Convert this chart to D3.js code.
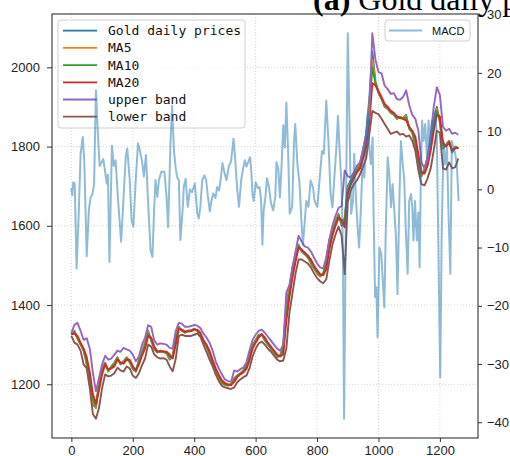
<!DOCTYPE html>
<html><head><meta charset="utf-8">
<script src="https://cdn.jsdelivr.net/npm/d3@7"></script>
<style>body{margin:0;background:#fff}svg{display:block}</style>
</head><body>
<svg id="chart" width="510" height="456"></svg>
<script>
const days = [0,10,20,30,40,50,60,70,80,90,100,110,120,130,140,150,160,170,180,190,200,210,220,230,240,250,260,270,280,290,300,310,320,330,340,350,360,370,380,390,400,410,420,430,440,450,460,470,480,490,500,510,520,530,540,550,560,570,580,590,600,610,620,630,640,650,660,670,680,690,700,710,720,730,740,750,760,770,780,790,800,810,820,830,840,850,860,870,880,890,900,910,920,930,940,950,960,970,980,990,1000,1010,1020,1030,1040,1050,1060,1070,1080,1090,1100,1110,1120,1130,1140,1150,1160,1170,1180,1190,1200,1210,1220,1230,1240,1250,1260];
const price = [1326,1335,1315,1300,1285,1250,1200,1150,1140,1205,1240,1255,1232,1245,1255,1268,1250,1258,1268,1255,1238,1232,1262,1282,1305,1335,1310,1288,1280,1285,1282,1278,1262,1270,1325,1345,1335,1330,1336,1336,1340,1335,1322,1305,1295,1275,1250,1230,1215,1203,1198,1197,1200,1215,1222,1228,1235,1250,1280,1300,1312,1325,1325,1310,1300,1290,1278,1268,1272,1300,1400,1445,1495,1530,1552,1535,1528,1520,1505,1492,1480,1472,1480,1515,1565,1590,1612,1630,1600,1620,1700,1715,1730,1742,1758,1790,1835,1920,2040,1965,1935,1920,1900,1895,1885,1880,1870,1875,1872,1880,1845,1835,1800,1750,1725,1745,1775,1820,1870,1900,1860,1795,1805,1815,1785,1800,1795];
const ma5 = [1326,1334,1316,1301,1286,1254,1207,1155,1142,1200,1236,1254,1233,1244,1253,1267,1251,1257,1267,1256,1240,1233,1259,1280,1302,1332,1312,1290,1281,1285,1282,1279,1265,1269,1318,1344,1335,1331,1335,1336,1340,1335,1324,1306,1296,1277,1253,1232,1217,1204,1199,1197,1200,1213,1221,1227,1234,1247,1275,1298,1310,1324,1326,1312,1301,1291,1280,1270,1271,1294,1390,1440,1490,1526,1550,1536,1529,1521,1507,1494,1482,1473,1479,1508,1558,1586,1609,1628,1604,1614,1695,1712,1728,1740,1755,1785,1826,1905,2020,1962,1936,1921,1902,1896,1886,1881,1871,1875,1872,1877,1846,1836,1806,1757,1727,1741,1770,1812,1862,1895,1864,1798,1804,1814,1786,1799,1795];
const ma10 = [1326,1332,1318,1302,1288,1259,1215,1162,1146,1195,1232,1252,1235,1242,1250,1265,1252,1255,1265,1258,1242,1234,1256,1277,1298,1328,1314,1292,1282,1284,1282,1280,1268,1268,1312,1342,1336,1332,1334,1335,1339,1336,1326,1308,1298,1280,1256,1235,1220,1206,1200,1198,1199,1210,1220,1226,1232,1244,1270,1295,1308,1322,1326,1314,1302,1292,1282,1272,1271,1288,1380,1432,1482,1520,1548,1538,1530,1522,1510,1496,1484,1475,1478,1502,1552,1582,1606,1625,1608,1608,1690,1710,1725,1738,1752,1780,1818,1890,2000,1960,1938,1922,1904,1898,1888,1882,1873,1874,1871,1873,1848,1838,1812,1765,1730,1738,1764,1805,1855,1890,1868,1802,1802,1812,1788,1798,1796];
const ma20 = [1326,1328,1322,1305,1290,1268,1230,1175,1152,1185,1225,1250,1238,1240,1245,1262,1255,1252,1262,1262,1245,1235,1250,1272,1290,1322,1318,1295,1283,1282,1283,1282,1275,1265,1300,1340,1338,1333,1333,1334,1338,1338,1330,1312,1300,1284,1262,1240,1224,1210,1203,1200,1198,1206,1218,1225,1230,1238,1260,1290,1305,1318,1326,1318,1305,1295,1285,1275,1270,1275,1360,1420,1470,1510,1545,1540,1532,1525,1515,1500,1488,1478,1475,1490,1540,1575,1600,1620,1615,1596,1680,1705,1720,1735,1745,1770,1800,1860,1960,1955,1940,1925,1908,1900,1890,1885,1876,1872,1870,1866,1850,1840,1825,1780,1735,1732,1752,1790,1840,1880,1876,1810,1800,1810,1790,1795,1798];
const upperBand = [1330,1350,1355,1335,1312,1316,1290,1230,1182,1215,1250,1272,1262,1265,1275,1285,1282,1292,1288,1285,1275,1258,1270,1300,1318,1349,1345,1310,1300,1303,1302,1300,1292,1290,1335,1355,1353,1345,1345,1347,1350,1348,1342,1328,1318,1305,1285,1258,1240,1225,1212,1208,1206,1235,1232,1238,1242,1255,1285,1312,1325,1335,1338,1330,1320,1310,1300,1290,1285,1300,1432,1450,1495,1535,1575,1560,1548,1545,1535,1520,1505,1495,1492,1520,1565,1600,1625,1645,1650,1740,1725,1722,1735,1752,1760,1795,1830,1880,2086,2020,1988,1985,1954,1945,1933,1935,1920,1918,1925,1942,1905,1880,1870,1840,1760,1744,1770,1830,1900,1950,1930,1850,1840,1845,1832,1835,1830];
const lowerBand = [1322,1305,1300,1285,1250,1240,1190,1125,1113,1140,1190,1225,1220,1222,1228,1242,1235,1232,1245,1240,1222,1216,1228,1248,1265,1300,1295,1275,1268,1265,1266,1262,1245,1233,1265,1322,1325,1322,1322,1322,1325,1328,1320,1300,1282,1262,1245,1225,1208,1196,1192,1190,1188,1192,1205,1212,1218,1222,1240,1270,1290,1303,1308,1300,1290,1282,1272,1262,1258,1260,1290,1380,1430,1480,1515,1515,1510,1505,1495,1480,1468,1460,1455,1465,1512,1552,1578,1598,1575,1478,1660,1690,1705,1715,1730,1750,1770,1830,1890,1885,1882,1870,1857,1845,1832,1835,1838,1830,1832,1825,1828,1815,1790,1740,1705,1702,1720,1745,1790,1840,1835,1745,1742,1760,1745,1748,1770];
const macdDay = [0,3,6,11,17,24,30,37,42,50,57,63,68,74,80,86,92,97,104,110,115,119,124,132,138,144,152,162,169,177,182,190,196,202,209,217,223,231,236,243,249,258,264,269,274,280,285,293,303,310,315,323,328,334,340,345,350,355,363,366,372,379,386,393,402,410,415,420,426,433,439,444,451,456,462,469,475,481,486,492,499,505,513,520,528,533,540,546,553,559,565,570,576,582,586,590,594,600,607,613,618,622,626,632,637,643,650,657,664,668,674,679,684,690,695,700,706,711,719,725,729,736,743,749,754,760,765,772,779,787,792,801,808,816,822,830,837,844,850,857,863,868,873,880,884,888,894,900,905,911,917,921,927,932,937,943,948,954,959,965,970,975,981,984,989,993,997,1003,1009,1014,1019,1024,1030,1035,1041,1046,1051,1057,1062,1068,1073,1079,1084,1089,1095,1100,1106,1110,1114,1119,1125,1130,1134,1138,1142,1147,1152,1158,1163,1168,1174,1179,1185,1190,1195,1201,1206,1212,1217,1223,1228,1234,1239,1244,1250,1255,1261];
const macdVal = [0.2,-1,1.2,1,-13.6,-4,6,9,5,-11.5,-3.5,-1.3,-1,1,17,10,4,4.5,5.2,3,1,2.5,-12.5,7.5,4,5,-1.8,-9,-2.4,5.5,7,1.6,-5.3,-6.4,1,7.9,6.7,4.5,2.2,5.9,-1.3,-10.5,-11.6,-4.1,1.6,-1.3,1.6,3,3,-1.3,-6.5,8.3,14.3,6.7,3.5,2,1.6,-8.7,-3,0.4,1.8,-3,0,-0.5,1,-4.1,-5,-3,1.5,2.4,1.6,-1,-3.8,-2,-0.7,-1.5,0.4,-0.2,1.6,4.5,2.7,1.6,4,4.8,8.7,5.5,0,-3,1.6,3.5,5,3.9,4.7,5.5,3,-1,-2,1.2,0.2,0.4,-2,-9.5,-3.6,-1.3,1.9,0.5,-2.4,-3.6,-1.3,4.7,3.5,-1.4,3.5,11,7.2,14.9,6.1,-4.2,-3,8.3,11.2,4.3,1,-5.4,-9.5,-5.4,-2,-3,1.5,0.3,-2,-3,1.5,6.6,6.1,15.2,8.3,-0.8,-3.1,2.6,7.2,12.6,7.2,0.3,-10,-39.4,-4,26.8,12.9,-4.2,-2,6.1,-2,-6.5,-10,-3,4.3,2,8.3,12.9,7.2,4.3,8.9,-4.2,-18.5,-16.8,-25.4,-10,-11.1,-15.7,-20.3,-6.5,5.5,2.6,-3.1,0.9,-3.1,-8.2,-18,-2,8.3,4.3,1.5,-7.1,-14.5,-2,-0.8,-3,-8.8,-2,-8.8,-4,-13.4,2.6,11.8,8.3,11.2,5.5,11.8,7.2,11.8,10,13.5,9,-10,-32.3,-7.1,8.3,4.3,7.2,-4.2,-14.5,8.3,7.2,6.1,4.3,-2];
const seriesNames = ["Gold daily prices","MA5","MA10","MA20","upper band","lower band"];
const seriesColors = ["#1f77b4","#ff7f0e","#2ca02c","#d62728","#9467bd","#8c564b"];
const xTicks = [0,200,400,600,800,1000,1200];
const yTicks = [1200,1400,1600,1800,2000];
const y2Ticks = [-40,-30,-20,-10,0,10,20,30];

const L = 52, R = 478, T = 14, B = 438;
const svg = d3.select("#chart");
function padded(ext){ const p = (ext[1]-ext[0])*0.05; return [ext[0]-p, ext[1]+p]; }
const allPrice = [].concat(price, ma5, ma10, ma20, upperBand, lowerBand);
const x = d3.scaleLinear().domain(padded([0, d3.max(macdDay)])).range([L, R]);
const y = d3.scaleLinear().domain(padded(d3.extent(allPrice))).range([B, T]);
const y2 = d3.scaleLinear().domain(padded(d3.extent(macdVal))).range([B, T]);

// grid
const grid = svg.append("g").attr("stroke", "#c8c8c8").attr("stroke-width", 0.8).attr("stroke-dasharray", "1,2");
grid.selectAll(".gx").data(xTicks).join("line").attr("x1", d=>x(d)).attr("x2", d=>x(d)).attr("y1", T).attr("y2", B);
grid.selectAll(".gy").data(yTicks).join("line").attr("x1", L).attr("x2", R).attr("y1", d=>y(d)).attr("y2", d=>y(d));

const plot = svg.append("g");
const seriesData = [price, ma5, ma10, ma20, upperBand, lowerBand];
const line = d3.line().x((d,i)=>x(days[i])).y(d=>y(d));
seriesData.forEach((s, k) => {
  plot.append("path").datum(s).attr("d", line).attr("fill", "none")
    .attr("stroke", seriesColors[k]).attr("stroke-width", 1.9).attr("stroke-linejoin", "round");
});

// left legend
const lg = svg.append("g");
lg.append("rect").attr("x", 58).attr("y", 20).attr("width", 187).attr("height", 108).attr("rx", 3)
  .attr("fill", "#fff").attr("fill-opacity", 0.8).attr("stroke", "#d0d0d0");
seriesNames.forEach((n, i) => {
  const yy = 30.7 + i * 17.2;
  lg.append("line").attr("x1", 63).attr("x2", 97).attr("y1", yy).attr("y2", yy).attr("stroke", seriesColors[i]).attr("stroke-width", 1.8);
  lg.append("text").attr("x", 108).attr("y", yy + 4.5).text(n)
    .attr("font-family", "DejaVu Sans Mono, monospace").attr("font-size", 13).attr("fill", "#111");
});

// MACD
const macdLine = d3.line().x((d,i)=>x(macdDay[i])).y(d=>y2(d));
svg.append("path").datum(macdVal).attr("d", macdLine).attr("fill", "none")
  .attr("stroke", "#1f77b4").attr("stroke-opacity", 0.5).attr("stroke-width", 2).attr("stroke-linejoin", "round");

// axes
const fontAx = "Liberation Sans, Arial, sans-serif";
const ax = svg.append("g").attr("transform", `translate(0,${B})`).call(d3.axisBottom(x).tickValues(xTicks).tickSize(4).tickPadding(4).tickFormat(d3.format("d")));
const ay = svg.append("g").attr("transform", `translate(${L},0)`).call(d3.axisLeft(y).tickValues(yTicks).tickSize(5).tickPadding(7).tickFormat(d3.format("d")));
const ay2 = svg.append("g").attr("transform", `translate(${R},0)`).call(d3.axisRight(y2).tickValues(y2Ticks).tickSize(4).tickPadding(5).tickFormat(d3.format("d")));
[ax, ay, ay2].forEach(g => {
  g.select(".domain").remove();
  g.selectAll("text").attr("font-family", fontAx).attr("font-size", 13).attr("fill", "#222");
  g.selectAll("line").attr("stroke", "#333");
});
// frame
svg.append("rect").attr("x", L).attr("y", T).attr("width", R-L).attr("height", B-T)
  .attr("fill", "none").attr("stroke", "#333").attr("stroke-width", 1.1);

// MACD legend
const lg2 = svg.append("g");
lg2.append("rect").attr("x", 385).attr("y", 20).attr("width", 85).attr("height", 21).attr("rx", 3)
  .attr("fill", "#fff").attr("fill-opacity", 0.8).attr("stroke", "#d0d0d0");
lg2.append("line").attr("x1", 389).attr("x2", 422).attr("y1", 30.5).attr("y2", 30.5)
  .attr("stroke", "#1f77b4").attr("stroke-opacity", 0.5).attr("stroke-width", 2);
lg2.append("text").attr("x", 432).attr("y", 34.5).text("MACD")
  .attr("font-family", fontAx).attr("font-size", 11).attr("fill", "#111");

// title (partially clipped at top, as in the reference)
const tt = svg.append("text").attr("x", 313).attr("y", 10).attr("font-family", "Liberation Serif, Times New Roman, serif").attr("font-size", 32).attr("fill", "#000");
tt.append("tspan").attr("font-weight", "bold").text("(a)");
tt.append("tspan").text(" Gold daily prices");
</script>
</body></html>
